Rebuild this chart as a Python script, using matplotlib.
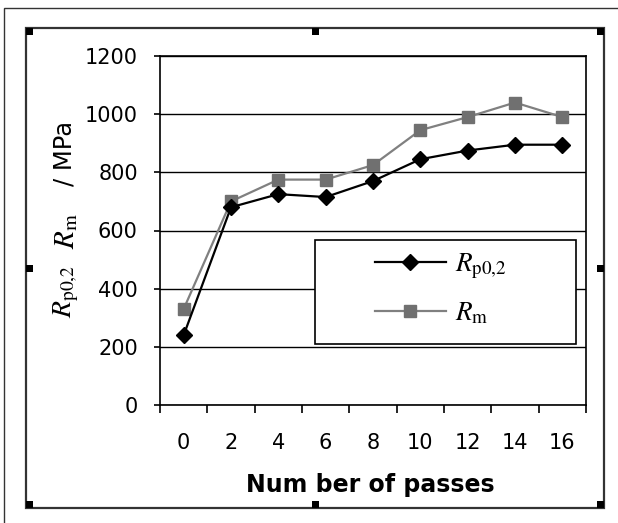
import matplotlib
matplotlib.use("Agg")
import matplotlib.pyplot as plt
from matplotlib.patches import Rectangle
from matplotlib.ticker import FixedLocator

passes = ["0", "2", "4", "6", "8", "10", "12", "14", "16"]
rp02 = [240, 680, 725, 715, 770, 845, 875, 895, 895]
rm = [330, 700, 775, 775, 825, 945, 990, 1040, 990]
yticks = [0, 200, 400, 600, 800, 1000, 1200]

plt.rcParams['font.family'] = ['DejaVu Sans']
plt.rcParams['mathtext.fontset'] = 'stix'

W, H = 618, 523
fig = plt.figure(figsize=(W / 100, H / 100), dpi=100)

def fx(px):
    return px / W

def fy(py):
    return 1 - py / H

AX_L, AX_R, AX_T, AX_B = 160, 586, 56, 405
ax = fig.add_axes([fx(AX_L), fy(AX_B), fx(AX_R) - fx(AX_L), fy(AX_T) - fy(AX_B)])

x = list(range(len(passes)))
ax.plot(x, rm, color='#808080', lw=1.6, marker='s', ms=9,
        mfc='#707070', mec='#707070', label=r'$R_{\mathrm{m}}$', zorder=3)
ax.plot(x, rp02, color='black', lw=1.6, marker='D', ms=8,
        mfc='black', mec='black', label=r'$R_{\mathrm{p0{,}2}}$', zorder=4)

ax.set_xlim(-0.5, len(passes) - 0.5)
ax.set_ylim(0, 1200)
ax.set_yticks(yticks)
ax.set_yticklabels([str(v) for v in yticks], fontsize=15)
ax.set_xticks(x)
ax.set_xticklabels(passes, fontsize=15)
ax.xaxis.set_minor_locator(FixedLocator([i - 0.5 for i in range(len(passes) + 1)]))
ax.tick_params(axis='x', which='major', length=0, pad=20)
ax.tick_params(axis='x', which='minor', length=6, width=1.2, direction='out')
ax.tick_params(axis='y', which='major', length=4.5, width=1.2, direction='out', pad=11.5)
ax.yaxis.grid(True, color='black', lw=1.0)
ax.set_axisbelow(True)
for s in ax.spines.values():
    s.set_linewidth(1.2)
    s.set_color('black')

# legend box (frame) and entries
axw, axh = AX_R - AX_L, AX_B - AX_T
ax.add_patch(Rectangle(((315 - AX_L) / axw, (AX_B - 344) / axh),
                       (576 - 315) / axw, (344 - 240) / axh,
                       transform=ax.transAxes, facecolor='white',
                       edgecolor='black', lw=1.2, zorder=2.5))
handles, labels = ax.get_legend_handles_labels()
leg = ax.legend(handles[::-1], labels[::-1], loc='center',
                bbox_to_anchor=((441 - AX_L) / axw, (AX_B - 289) / axh),
                fontsize=19.5, frameon=False, labelspacing=0.7,
                handlelength=2.6, borderaxespad=0, handletextpad=0.35)
leg.set_zorder(10)

fig.text(fx(370), fy(485), 'Num ber of passes', ha='center', va='center',
         fontsize=17, fontweight='bold')

# y-axis label pieces (rotated)
fig.text(fx(66), fy(292), r'$R_{\mathrm{p0{,}2}}$', rotation=90,
         ha='center', va='center', fontsize=20)
fig.text(fx(66), fy(231), r'$R_{\mathrm{m}}$', rotation=90,
         ha='center', va='center', fontsize=21)
fig.text(fx(64), fy(153), '/ MPa', rotation=90,
         ha='center', va='center', fontsize=17.5)

# outer thin frame
fig.add_artist(Rectangle((fx(4.3), fy(530)), fx(640), fy(8.3) - fy(530),
                         transform=fig.transFigure, fill=False, lw=1.0,
                         edgecolor='#333333'))
# inner frame
fig.add_artist(Rectangle((fx(25.5), fy(507.5)), fx(604) - fx(25.5), fy(27.7) - fy(507.5),
                         transform=fig.transFigure, fill=False, lw=1.6,
                         edgecolor='#333333'))
hs = 7
for hx, hy in [(25.5, 27.7), (312, 27.7), (597, 27.7),
               (25.5, 265), (597, 265),
               (25.5, 500.5), (312, 500.5), (597, 500.5)]:
    fig.add_artist(Rectangle((fx(hx), fy(hy + hs)), fx(hs), fy(0) - fy(hs),
                             transform=fig.transFigure, color='black', lw=0))

fig.savefig('out.png', dpi=100)
